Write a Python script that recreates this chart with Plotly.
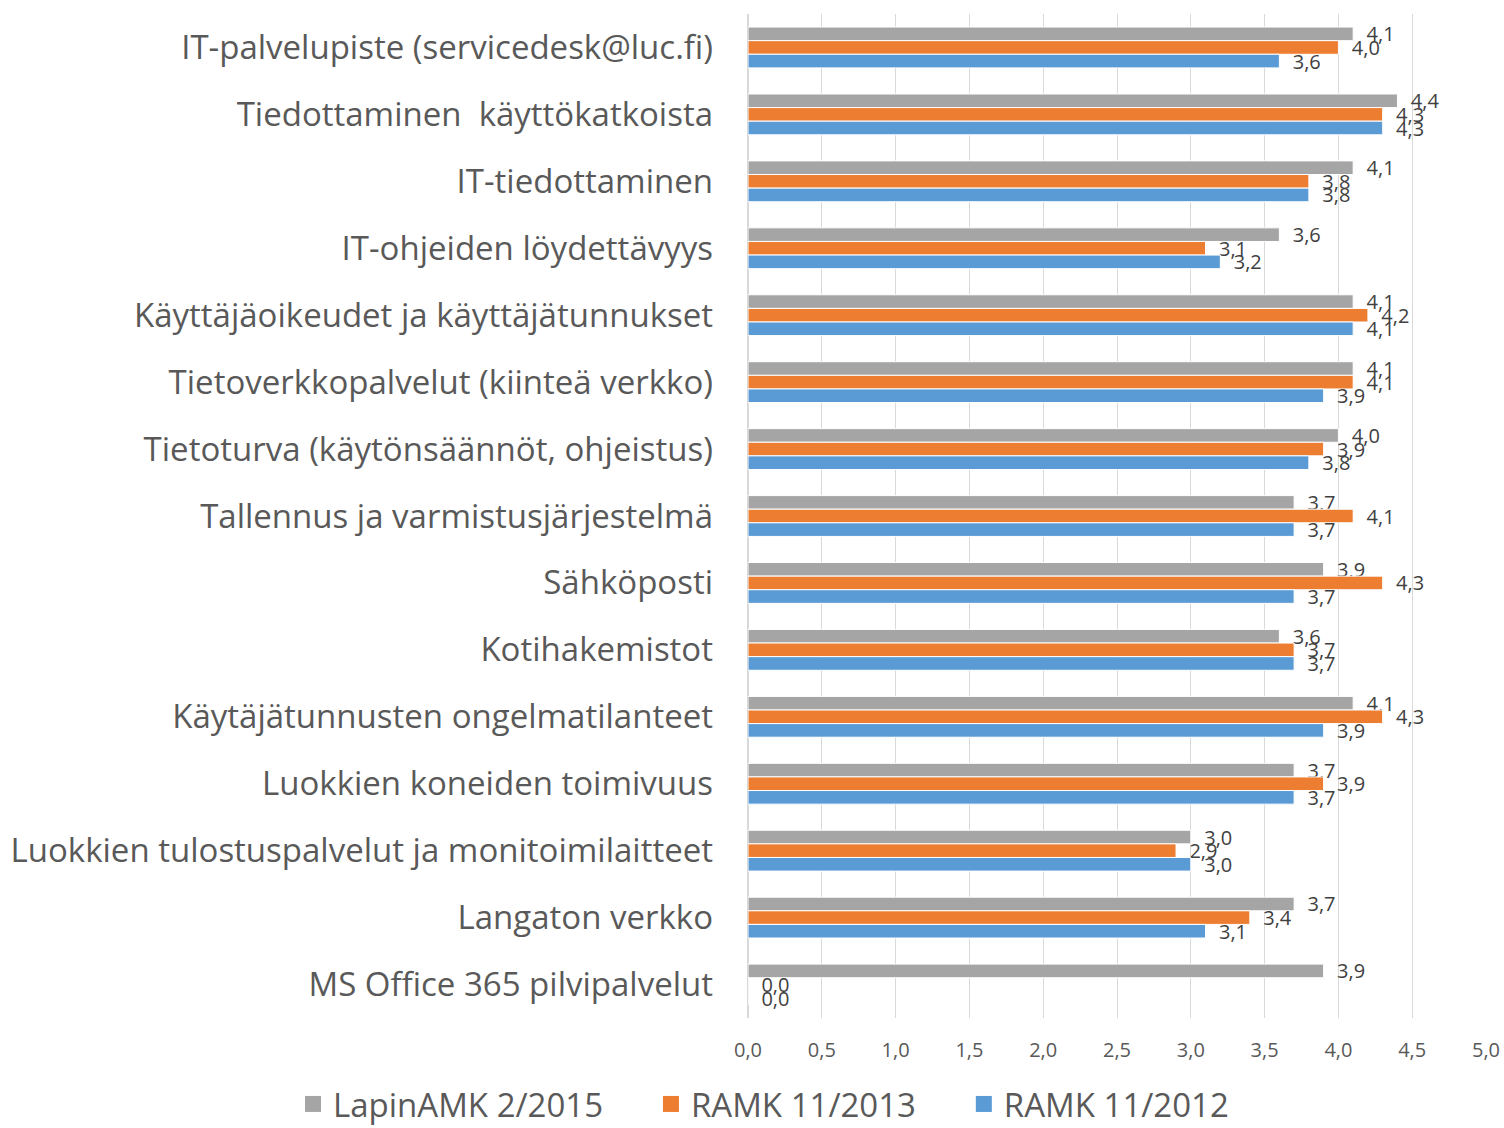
import plotly.graph_objects as go

categories = [
    "IT-palvelupiste (servicedesk@luc.fi)",
    "Tiedottaminen  käyttökatkoista",
    "IT-tiedottaminen",
    "IT-ohjeiden löydettävyys",
    "Käyttäjäoikeudet ja käyttäjätunnukset",
    "Tietoverkkopalvelut (kiinteä verkko)",
    "Tietoturva (käytönsäännöt, ohjeistus)",
    "Tallennus ja varmistusjärjestelmä",
    "Sähköposti",
    "Kotihakemistot",
    "Käytäjätunnusten ongelmatilanteet",
    "Luokkien koneiden toimivuus",
    "Luokkien tulostuspalvelut ja monitoimilaitteet",
    "Langaton verkko",
    "MS Office 365 pilvipalvelut",
]

lapinamk_2015 = [4.1, 4.4, 4.1, 3.6, 4.1, 4.1, 4.0, 3.7, 3.9, 3.6, 4.1, 3.7, 3.0, 3.7, 3.9]
ramk_2013 = [4.0, 4.3, 3.8, 3.1, 4.2, 4.1, 3.9, 4.1, 4.3, 3.7, 4.3, 3.9, 2.9, 3.4, 0.0]
ramk_2012 = [3.6, 4.3, 3.8, 3.2, 4.1, 3.9, 3.8, 3.7, 3.7, 3.7, 3.9, 3.7, 3.0, 3.1, 0.0]

series = [
    ("LapinAMK 2/2015", lapinamk_2015, "#A5A5A5"),
    ("RAMK 11/2013", ramk_2013, "#ED7D31"),
    ("RAMK 11/2012", ramk_2012, "#5B9BD5"),
]

x_ticks = [0, 0.5, 1, 1.5, 2, 2.5, 3, 3.5, 4, 4.5, 5]
x_tick_labels = [f"{v:.1f}".replace(".", ",") for v in x_ticks]

FONT = "Open Sans"

fig = go.Figure()
for name, vals, color in series:
    fig.add_trace(go.Bar(
        name=name,
        y=categories,
        x=vals,
        orientation="h",
        marker=dict(color=color, line=dict(color="white", width=1)),
        text=["\u00a0\u00a0" + f"{v:.1f}".replace(".", ",") for v in vals],
        textposition="outside",
        textfont=dict(family=FONT, size=20, color="#404040"),
        constraintext="none",
        cliponaxis=False,
        showlegend=False,
    ))

# legend-only entries with larger square swatches
for i, (name, vals, color) in enumerate(series):
    pad = "\u00a0" * 5 if i < len(series) - 1 else ""
    fig.add_trace(go.Scatter(
        name=name + pad,
        x=[None],
        y=[None],
        mode="markers",
        marker=dict(symbol="square", size=21, color=color),
        showlegend=True,
        hoverinfo="skip",
    ))

fig.update_layout(
    width=1504,
    height=1128,
    margin=dict(l=748, r=18, t=14, b=110, autoexpand=False),
    barmode="group",
    bargap=0.39,
    bargroupgap=0,
    plot_bgcolor="white",
    paper_bgcolor="white",
    font=dict(family=FONT, color="#595959"),
    legend=dict(
        orientation="h",
        x=(293 - 748) / 738,
        xanchor="left",
        y=-(1104 - 1018) / 1004,
        yanchor="middle",
        font=dict(size=33, color="#595959"),
        traceorder="normal",
        itemwidth=30,
    ),
    xaxis=dict(
        range=[0, 5],
        tickvals=x_ticks,
        ticktext=x_tick_labels,
        showgrid=True,
        gridcolor="#D9D9D9",
        gridwidth=1,
        zeroline=True,
        zerolinecolor="#D9D9D9",
        showline=False,
        tickfont=dict(size=20, color="#595959"),
        ticklabelstandoff=18,
        fixedrange=True,
    ),
    yaxis=dict(
        autorange="reversed",
        showgrid=False,
        showline=False,
        tickfont=dict(size=33, color="#595959"),
        ticklabelstandoff=34,
        fixedrange=True,
    ),
)

fig.write_html(
    "out.html",
    config={"displayModeBar": False},
    post_script="document.body.style.margin='0';",
)
